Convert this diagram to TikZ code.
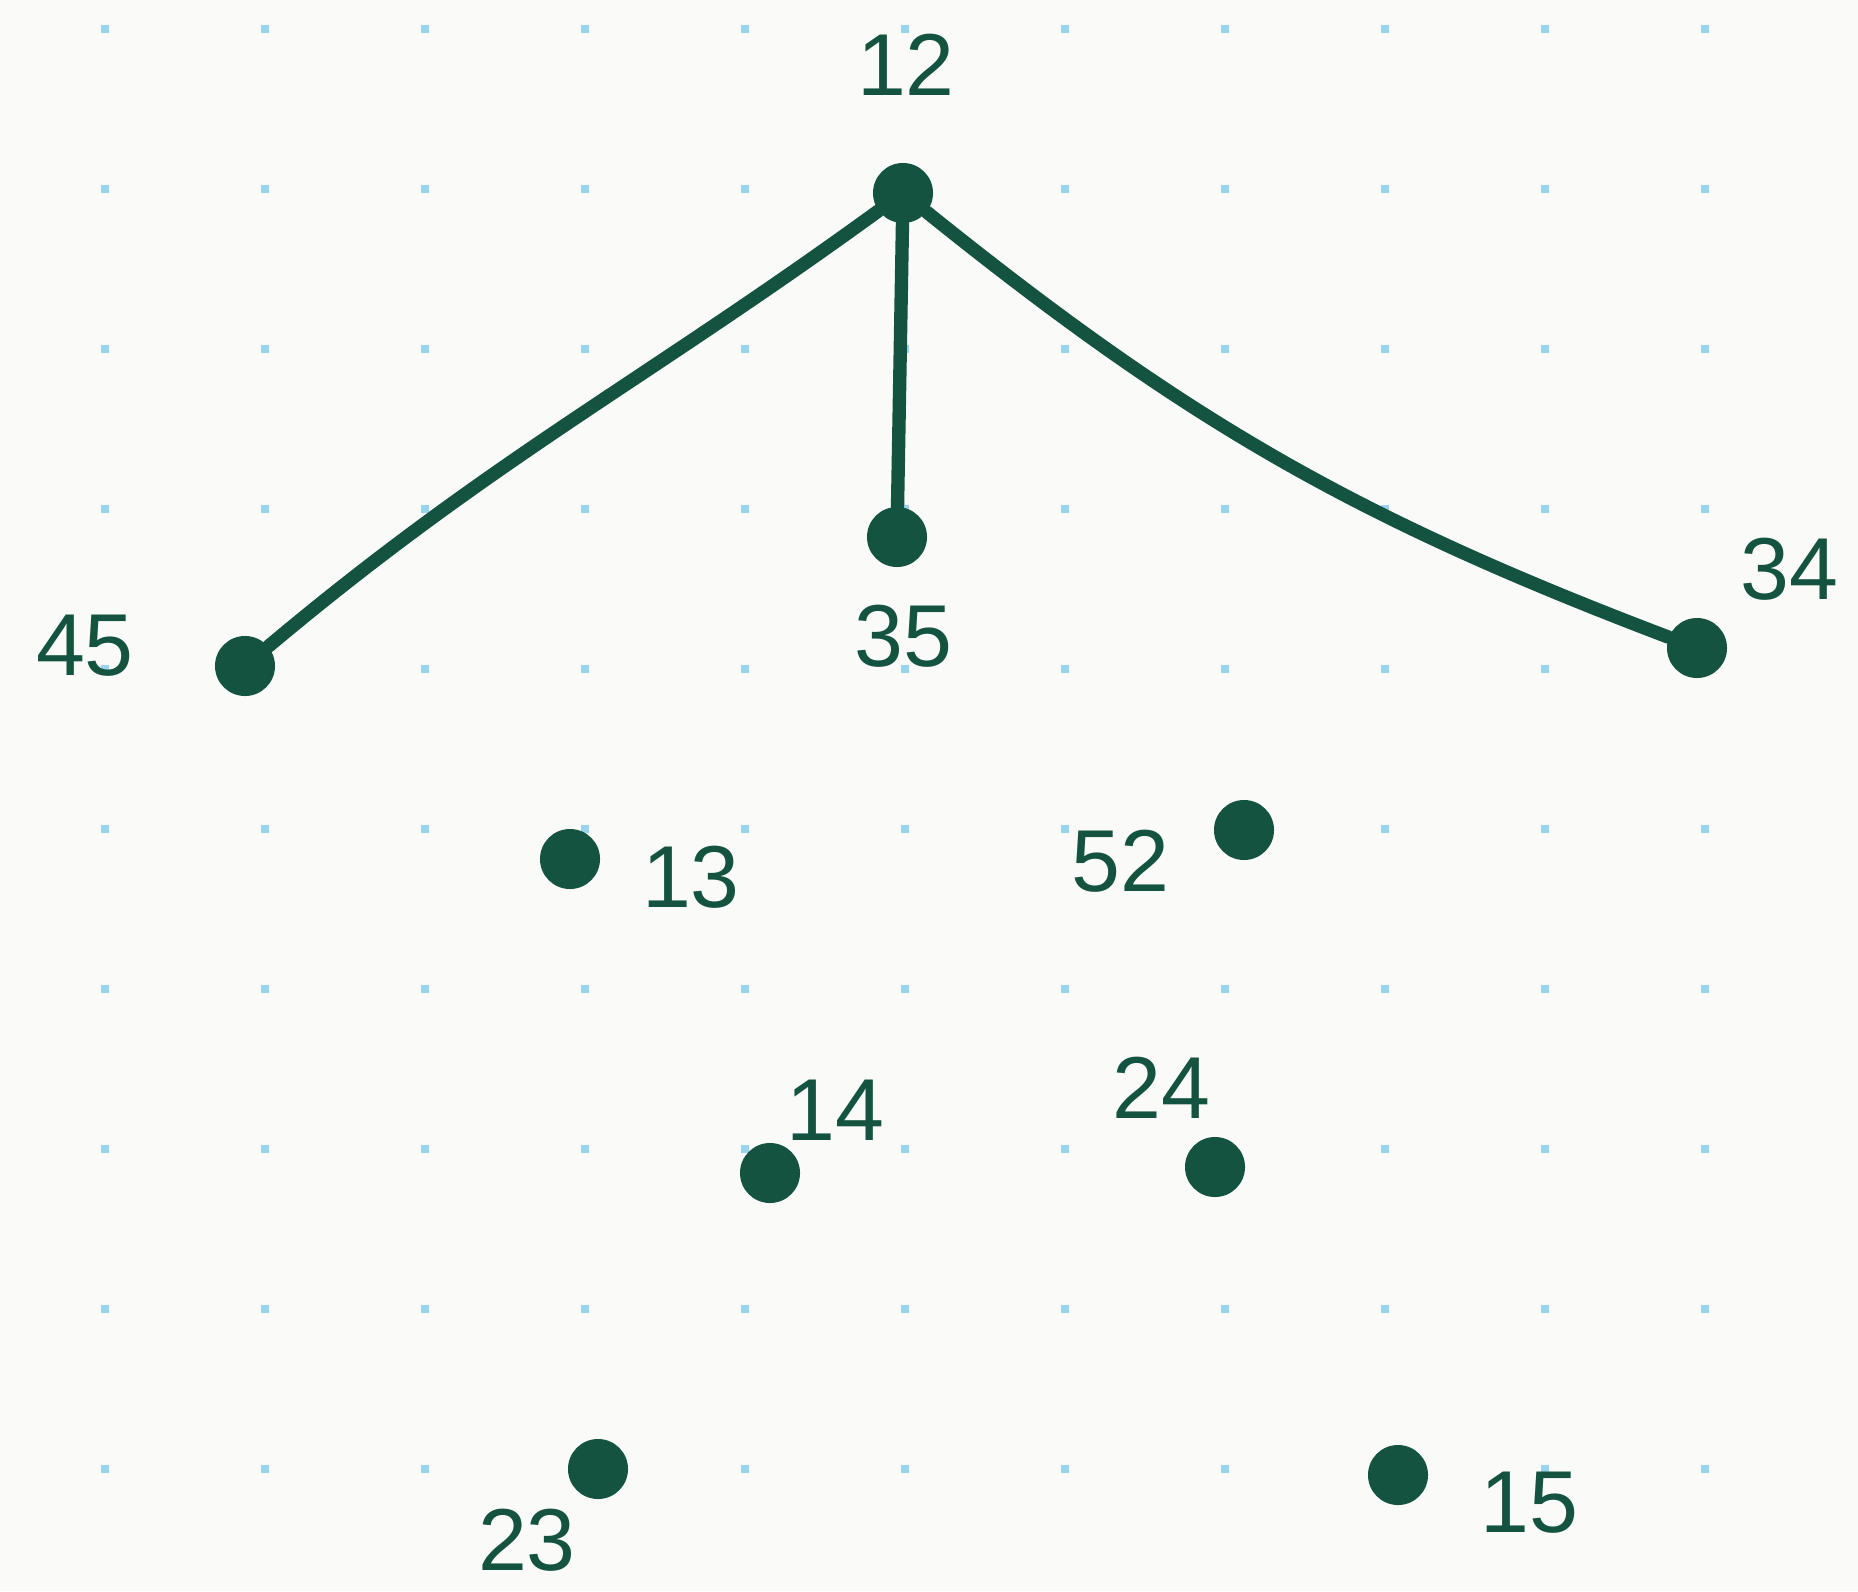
\documentclass[tikz,border=0pt]{standalone}
\usepackage{fontspec}
\setmainfont{Liberation Sans}
\usepackage{xcolor}
\definecolor{inkgreen}{HTML}{14533F}
\definecolor{gridblue}{HTML}{9AD3F0}
\definecolor{paper}{HTML}{FAFAF9}
\usepackage{tikz}
\usetikzlibrary{positioning}

\begin{document}
\begin{tikzpicture}[
  x=0.01cm, y=-0.01cm,
  vtx/.style ={circle, fill=inkgreen, inner sep=0pt, minimum size=0.6cm},
  lbl/.style ={text=inkgreen, inner sep=0pt, font=\fontsize{25}{30}\selectfont},
  edge/.style={draw=inkgreen, line width=3.8pt, line cap=round}
]
% ---- Paper -----------------------------------------------------------------
\fill[paper] (0,0) rectangle (1858,1591);
\useasboundingbox (0,0) rectangle (1858,1591);
\foreach \gx in {0,...,10}
  \foreach \gy in {0,...,9}
    \fill[gridblue] ({105+160*\gx-4},{29+160*\gy-4}) rectangle ++(8,8);
% ---- Vertices --------------------------------------------------------------
\node[vtx] (v12) at (903,193)  {};
\node[vtx] (v35) at (897,537)  {};
\node[vtx] (v45) at (245,666)  {};
\node[vtx] (v34) at (1697,648) {};
\node[vtx] (v13) at (570,859)  {};
\node[vtx] (v52) at (1244,830) {};
\node[vtx] (v14) at (770,1173) {};
\node[vtx] (v24) at (1215,1167) {};
\node[vtx] (v23) at (598,1469) {};
\node[vtx] (v15) at (1398,1475) {};
% ---- Labels ----------------------------------------------------------------
\node[lbl] (l12) at (906,65)   {12};
\node[lbl] (l35) at (903,636)  {35};
\node[lbl] (l45) at (85,646)   {45};
\node[lbl] (l34) at (1789,569) {34};
\node[lbl] (l13) at (691,877)  {13};
\node[lbl] (l52) at (1120,861) {52};
\node[lbl] (l14) at (835,1110) {14};
\node[lbl] (l24) at (1161,1088) {24};
\node[lbl] (l23) at (527,1540) {23};
\node[lbl] (l15) at (1529,1503) {15};
% ---- Edges -----------------------------------------------------------------
\draw[edge] (v12) to[out=216,in=40] (v45);
\draw[edge] (v12) -- (v35);
\draw[edge] (v12) to[bend right=9] (v34);
\end{tikzpicture}
\end{document}
